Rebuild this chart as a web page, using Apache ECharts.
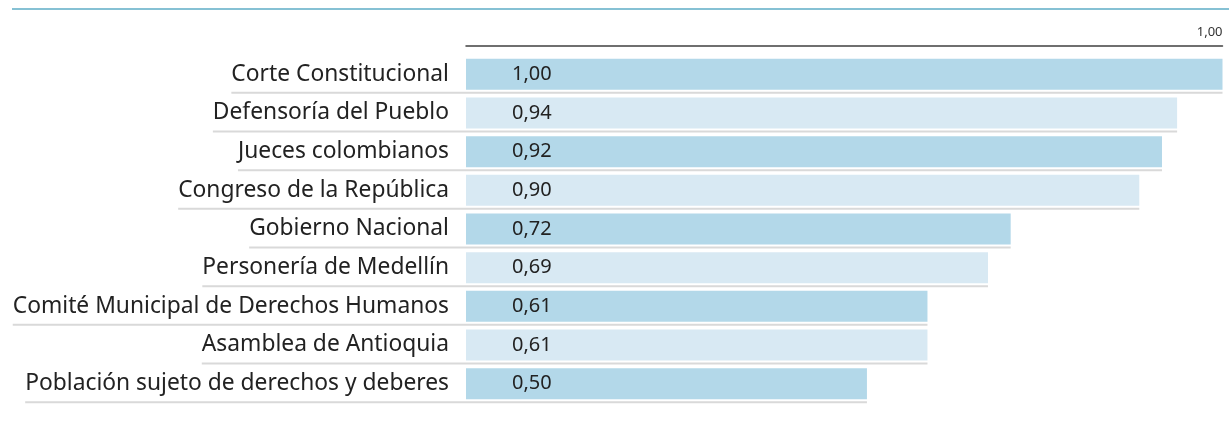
<!DOCTYPE html>
<html>
<head>
<meta charset="utf-8">
<script src="https://cdn.jsdelivr.net/npm/echarts@6/dist/echarts.min.js"></script>
<style>
html,body{margin:0;padding:0;background:#fff;}
#chart{width:1229px;height:425px;}
</style>
</head>
<body>
<div id="chart"></div>
<script>
var categories = [
  'Corte Constitucional',
  'Defensoría del Pueblo',
  'Jueces colombianos',
  'Congreso de la República',
  'Gobierno Nacional',
  'Personería de Medellín',
  'Comité Municipal de Derechos Humanos',
  'Asamblea de Antioquia',
  'Población sujeto de derechos y deberes'
];
// bar lengths as drawn in the picture
var barValues = [1.00, 0.94, 0.92, 0.89, 0.72, 0.69, 0.61, 0.61, 0.53];
// value text printed inside each bar
var valueLabels = ['1,00', '0,94', '0,92', '0,90', '0,72', '0,69', '0,61', '0,61', '0,50'];
var axisTickLabel = '1,00';

var catFont = 'Noto Sans';
var catSize = 22.8;
var catMargin = 17;
var barW = 31;

var measureCtx = document.createElement('canvas').getContext('2d');
measureCtx.font = catSize + 'px "' + catFont + '"';
function textW(s) { return measureCtx.measureText(s).width; }

var chart = echarts.init(document.getElementById('chart'), null, {renderer: 'canvas'});

var option = {
  animation: false,
  grid: {left: 466, right: 6.5, top: 55, bottom: 22, containLabel: false},
  xAxis: {
    type: 'value', min: 0, max: 1, interval: 1,
    position: 'top', offset: 9,
    axisLine: {show: true, lineStyle: {color: '#404040', width: 1.5}},
    axisTick: {show: false},
    splitLine: {show: false},
    axisLabel: {
      show: true, margin: 7, align: 'right',
      fontFamily: 'Noto Sans', fontSize: 13, color: '#333',
      formatter: function (v) { return v === 1 ? axisTickLabel : ''; }
    }
  },
  yAxis: {
    type: 'category', data: categories, inverse: true,
    axisLine: {show: false}, axisTick: {show: false},
    axisLabel: {margin: catMargin, fontFamily: catFont, fontSize: catSize, color: '#222'}
  },
  graphic: [{
    type: 'line', shape: {x1: 12, y1: 9, x2: 1229, y2: 9},
    style: {stroke: '#86c1d4', lineWidth: 2}
  }],
  series: [
    {
      type: 'custom',
      silent: true,
      z: 1,
      data: barValues.map(function (v, i) { return [v, i]; }),
      encode: {x: 0, y: 1},
      renderItem: function (params, api) {
        var idx = api.value(1);
        var end = api.coord([api.value(0), idx]);
        var start = api.coord([0, idx]);
        var y = end[1] + barW / 2 + 3;
        var x1 = start[0] - catMargin - textW(categories[idx]);
        return {
          type: 'line',
          shape: {x1: x1, y1: y, x2: end[0], y2: y},
          style: {stroke: '#d9d9d9', lineWidth: 2}
        };
      }
    },
    {
      type: 'bar',
      data: barValues,
      barWidth: barW,
      z: 2,
      itemStyle: {
        color: function (p) { return p.dataIndex % 2 === 0 ? '#b3d8e9' : '#d8e9f3'; }
      },
      label: {
        show: true, position: 'insideLeft', distance: 46,
        fontFamily: catFont, fontSize: 20, color: '#222',
        formatter: function (p) { return valueLabels[p.dataIndex]; }
      }
    }
  ]
};
chart.setOption(option);
</script>
</body>
</html>
